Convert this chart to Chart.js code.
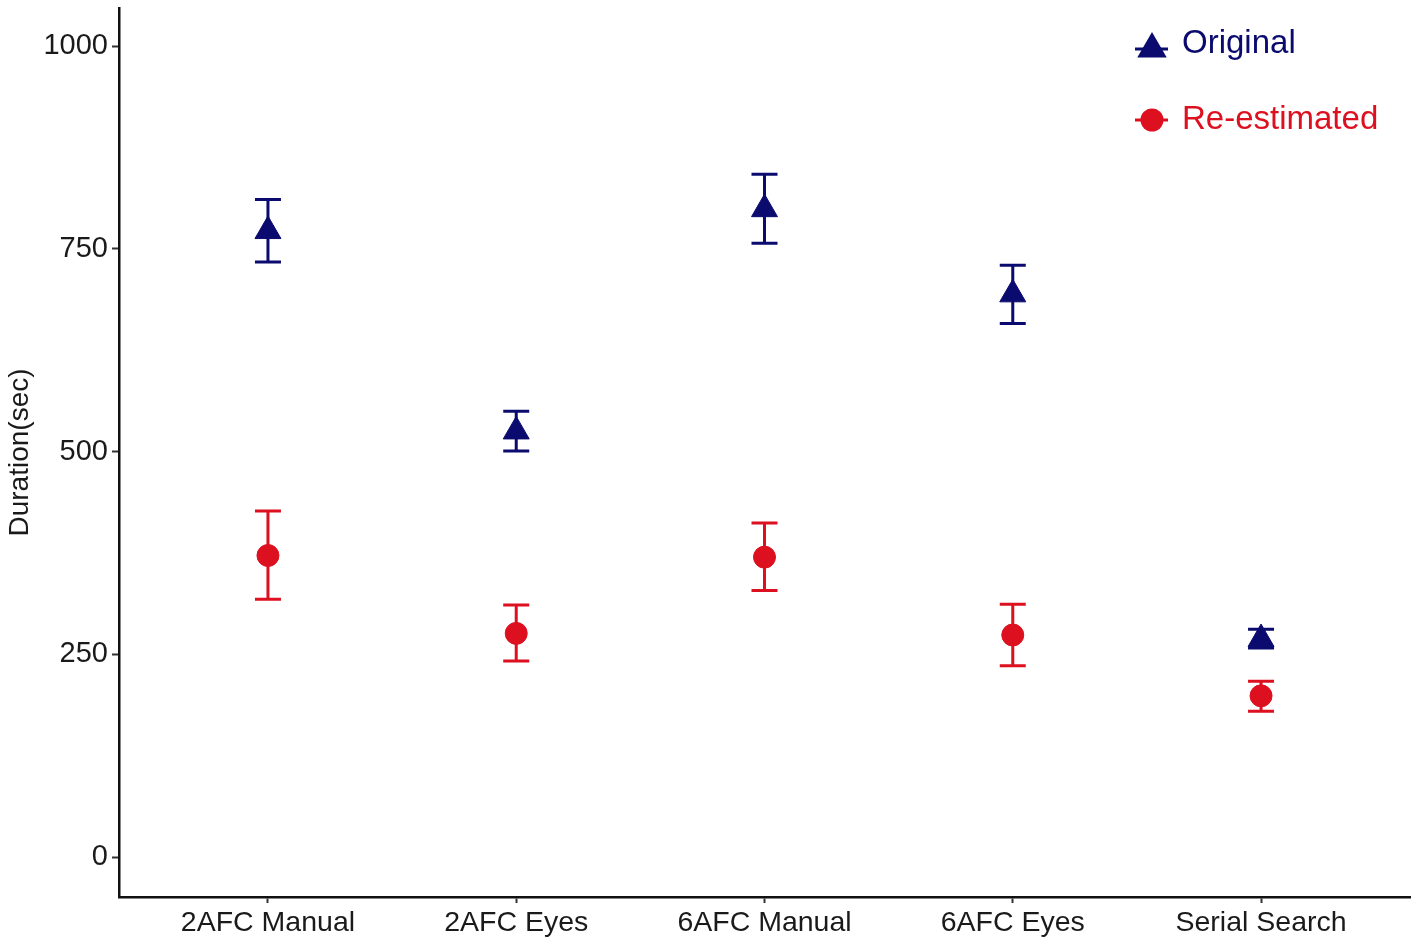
<!DOCTYPE html>
<html>
<head>
<meta charset="utf-8">
<script src="https://cdn.jsdelivr.net/npm/chart.js@4"></script>
<style>
  body { margin: 0; background: #fff; }
  #wrap { width: 1417px; height: 945px; }
</style>
</head>
<body>
<div id="wrap"><canvas id="chart"></canvas></div>
<script>
// categories and values
var categories = ["2AFC Manual", "2AFC Eyes", "6AFC Manual", "6AFC Eyes", "Serial Search"];
var seriesNames = ["Original", "Re-estimated"];

var original = [772, 525, 799, 694, 269];
var originalLow = [734, 501, 757, 658, 258];
var originalHigh = [811, 550, 842, 730, 281];

var reestimated = [372, 276, 370, 274, 199];
var reestimatedLow = [318, 242, 329, 236, 180];
var reestimatedHigh = [427, 311, 412, 312, 217];

var yTicks = [0, 250, 500, 750, 1000];

var navy = "#0b0b6f";
var red = "#dd1020";
var fontFamily = "'Liberation Sans', Arial, sans-serif";

function toPoints(vals) {
  return vals.map(function (v, i) {
    return { x: i, y: v };
  });
}

// ---------- error bars, drawn under the points ----------
var errorBars = {
  id: "errorBars",
  beforeDatasetsDraw: function (chart) {
    var ctx = chart.ctx;
    var y = chart.scales.y;
    chart.data.datasets.forEach(function (ds, di) {
      var meta = chart.getDatasetMeta(di);
      ctx.save();
      ctx.strokeStyle = ds.borderColor;
      ctx.lineWidth = 3;
      meta.data.forEach(function (pt, i) {
        var top = y.getPixelForValue(ds.high[i]);
        var bot = y.getPixelForValue(ds.low[i]);
        var half = 13;
        ctx.beginPath();
        ctx.moveTo(pt.x, top);
        ctx.lineTo(pt.x, bot);
        ctx.moveTo(pt.x - half, top);
        ctx.lineTo(pt.x + half, top);
        ctx.moveTo(pt.x - half, bot);
        ctx.lineTo(pt.x + half, bot);
        ctx.stroke();
      });
      ctx.restore();
    });
  }
};

// ---------- legend in the top right corner ----------
var cornerLegend = {
  id: "cornerLegend",
  afterDraw: function (chart) {
    var ctx = chart.ctx;
    var rows = [
      { y: 49, baseline: 53, style: "triangle" },
      { y: 120, baseline: 129, style: "circle" }
    ];
    chart.data.datasets.forEach(function (ds, i) {
      var r = rows[i];
      var cx = 1152;
      ctx.save();
      ctx.strokeStyle = ds.borderColor;
      ctx.fillStyle = ds.backgroundColor;
      ctx.lineWidth = 3;
      ctx.beginPath();
      ctx.moveTo(cx - 17, r.y);
      ctx.lineTo(cx + 16, r.y);
      ctx.stroke();
      ctx.beginPath();
      if (r.style == "triangle") {
        var rad = 17;
        ctx.moveTo(cx, r.y - rad);
        ctx.lineTo(cx + rad * 0.866, r.y + rad / 2);
        ctx.lineTo(cx - rad * 0.866, r.y + rad / 2);
        ctx.closePath();
      } else {
        ctx.arc(cx, r.y, 11.5, 0, Math.PI * 2);
      }
      ctx.fill();
      ctx.font = "33px " + fontFamily;
      ctx.textBaseline = "alphabetic";
      ctx.textAlign = "left";
      ctx.fillText(ds.label, 1182, r.baseline);
      ctx.restore();
    });
  }
};

var ctx = document.getElementById("chart").getContext("2d");

var chart = new Chart(ctx, {
  type: "scatter",
  data: {
    datasets: [
      {
        label: seriesNames[0],
        data: toPoints(original),
        low: originalLow,
        high: originalHigh,
        pointStyle: "triangle",
        pointRadius: 15,
        pointHoverRadius: 15,
        borderWidth: 1,
        backgroundColor: navy,
        borderColor: navy
      },
      {
        label: seriesNames[1],
        data: toPoints(reestimated),
        low: reestimatedLow,
        high: reestimatedHigh,
        pointStyle: "circle",
        pointRadius: 11,
        pointHoverRadius: 11,
        borderWidth: 1,
        backgroundColor: red,
        borderColor: red
      }
    ]
  },
  options: {
    responsive: true,
    maintainAspectRatio: false,
    animation: false,
    devicePixelRatio: 1,
    layout: {
      autoPadding: false,
      padding: { top: 8, right: 7, left: 0, bottom: 0 }
    },
    plugins: {
      legend: { display: false },
      tooltip: { enabled: false }
    },
    scales: {
      x: {
        type: "linear",
        min: -0.6,
        max: 4.6,
        afterBuildTicks: function (scale) {
          scale.ticks = categories.map(function (c, i) {
            return { value: i };
          });
        },
        afterFit: function (scale) {
          scale.height = 48;
          scale.paddingLeft = 0;
          scale.paddingRight = 0;
        },
        border: { display: true, color: "#111", width: 2.5 },
        grid: {
          drawOnChartArea: false,
          drawTicks: true,
          tickLength: 6,
          tickWidth: 2,
          tickColor: "#333"
        },
        ticks: {
          padding: 3,
          maxRotation: 0,
          autoSkip: false,
          color: "#1a1a1a",
          font: { family: fontFamily, size: 28.5 },
          callback: function (value) {
            return categories[value];
          }
        }
      },
      y: {
        min: -49,
        max: 1047,
        afterBuildTicks: function (scale) {
          scale.ticks = yTicks.map(function (v) {
            return { value: v };
          });
        },
        afterFit: function (scale) {
          scale.width = 119;
          scale.paddingTop = 0;
          scale.paddingBottom = 0;
        },
        border: { display: true, color: "#111", width: 2.5 },
        grid: {
          drawOnChartArea: false,
          drawTicks: true,
          tickLength: 7,
          tickWidth: 2,
          tickColor: "#333"
        },
        ticks: {
          padding: 4,
          color: "#1a1a1a",
          font: { family: fontFamily, size: 29 },
          callback: function (value) {
            return String(value);
          }
        },
        title: {
          display: true,
          text: "Duration(sec)",
          color: "#1a1a1a",
          padding: { top: 3, bottom: 0 },
          font: { family: fontFamily, size: 28 }
        }
      }
    }
  },
  plugins: [errorBars, cornerLegend]
});
</script>
</body>
</html>
